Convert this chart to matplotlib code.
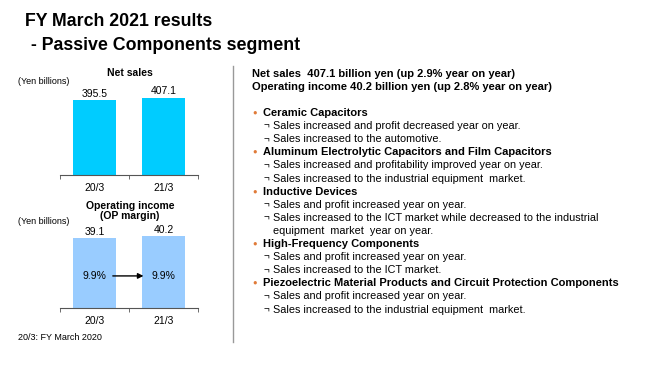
import matplotlib.pyplot as plt
from matplotlib.patches import FancyArrowPatch

plt.rcParams['font.family'] = ['Liberation Sans', 'DejaVu Sans']

periods = ['20/3', '21/3']
net_sales = [395.5, 407.1]
op_income = [39.1, 40.2]
op_margin = ['9.9%', '9.9%']

summary = [
    'Net sales  407.1 billion yen (up 2.9% year on year)',
    'Operating income 40.2 billion yen (up 2.8% year on year)',
]
segments = [
    ('Ceramic Capacitors',
     ['Sales increased and profit decreased year on year.',
      'Sales increased to the automotive.']),
    ('Aluminum Electrolytic Capacitors and Film Capacitors',
     ['Sales increased and profitability improved year on year.',
      'Sales increased to the industrial equipment  market.']),
    ('Inductive Devices',
     ['Sales and profit increased year on year.',
      'Sales increased to the ICT market while decreased to the industrial\n  equipment  market  year on year.']),
    ('High-Frequency Components',
     ['Sales and profit increased year on year.',
      'Sales increased to the ICT market.']),
    ('Piezoelectric Material Products and Circuit Protection Components',
     ['Sales and profit increased year on year.',
      'Sales increased to the industrial equipment  market.']),
]

W, H = 660, 371
fig = plt.figure(figsize=(6.6, 3.71), dpi=100)


def fx(px):
    return px / W


def fy(py):
    return 1 - py / H


# title
fig.text(fx(25), fy(22), 'FY March 2021 results', fontsize=12.8, fontweight='bold', va='center')
fig.text(fx(26), fy(45), ' - Passive Components segment', fontsize=12.8, fontweight='bold', va='center')

# divider
fig.add_artist(plt.Line2D([fx(233), fx(233)], [fy(66), fy(342)], color='#999999', lw=1))


def bar_axes(top_px, bottom_px):
    return fig.add_axes([fx(60), fy(bottom_px), fx(138), (bottom_px - top_px) / H])


def style(ax):
    for s in ['top', 'right', 'left']:
        ax.spines[s].set_visible(False)
    ax.spines['bottom'].set_color('#555555')
    ax.set_xlim(-0.5, 1.5)
    ax.set_yticks([])
    ax.set_xticks(range(len(periods)))
    ax.set_xticklabels(periods, fontsize=7.5)
    ax.tick_params(axis='x', length=0, pad=6)
    ax.set_xticks([-0.5, 0.5, 1.5], minor=True)
    ax.tick_params(axis='x', which='minor', length=3, color='#555555')
    ax.patch.set_alpha(0)


# net sales
ax1 = bar_axes(75, 175)
b1 = ax1.bar(range(len(periods)), net_sales, width=0.623, color='#00CCFF')
ax1.set_ylim(0, 527)
style(ax1)
ax1.bar_label(b1, labels=[f'{v:.1f}' for v in net_sales], fontsize=7.5, padding=1)
fig.text(fx(130), fy(73), 'Net sales', fontsize=7.5, fontweight='bold', ha='center', va='center')
fig.text(fx(18), fy(82), '(Yen billions)', fontsize=6.5, va='center')

# operating income
ax2 = bar_axes(208, 308)
b2 = ax2.bar(range(len(periods)), op_income, width=0.623, color='#99CCFF')
ax2.set_ylim(0, 55.8)
style(ax2)
ax2.bar_label(b2, labels=[f'{v:.1f}' for v in op_income], fontsize=7.5, padding=1)
for i, m in enumerate(op_margin):
    ax2.text(i, 17.9, m, fontsize=7.5, ha='center', va='center')
ax2.add_patch(FancyArrowPatch((0.225, 17.9), (0.75, 17.9), arrowstyle='-|>',
                              mutation_scale=8, color='black', lw=1))
fig.text(fx(130), fy(211), 'Operating income\n(OP margin)', fontsize=7.5, fontweight='bold',
         ha='center', va='center', linespacing=1.1)
fig.text(fx(18), fy(222), '(Yen billions)', fontsize=6.5, va='center')
fig.text(fx(18), fy(337), '20/3: FY March 2020', fontsize=6.5, va='center')

# right side text
y = 74
for line in summary:
    fig.text(fx(252), fy(y), line, fontsize=8, fontweight='bold', va='center')
    y += 13
y = 113
for name, items in segments:
    fig.text(fx(255), fy(y), '\u25cf', fontsize=5.5, color='#E07B39', va='center', ha='center')
    fig.text(fx(263), fy(y), name, fontsize=8, fontweight='bold', va='center')
    y += 13.1
    for item in items:
        lines = item.split('\n')
        fig.text(fx(264), fy(y), '\u00ac', fontsize=7, va='center')
        fig.text(fx(273), fy(y), lines[0], fontsize=7.8, va='center')
        for extra in lines[1:]:
            y += 13.1
            fig.text(fx(273), fy(y), extra.strip(), fontsize=7.8, va='center')
        y += 13.1

fig.savefig('out.png', dpi=100)
